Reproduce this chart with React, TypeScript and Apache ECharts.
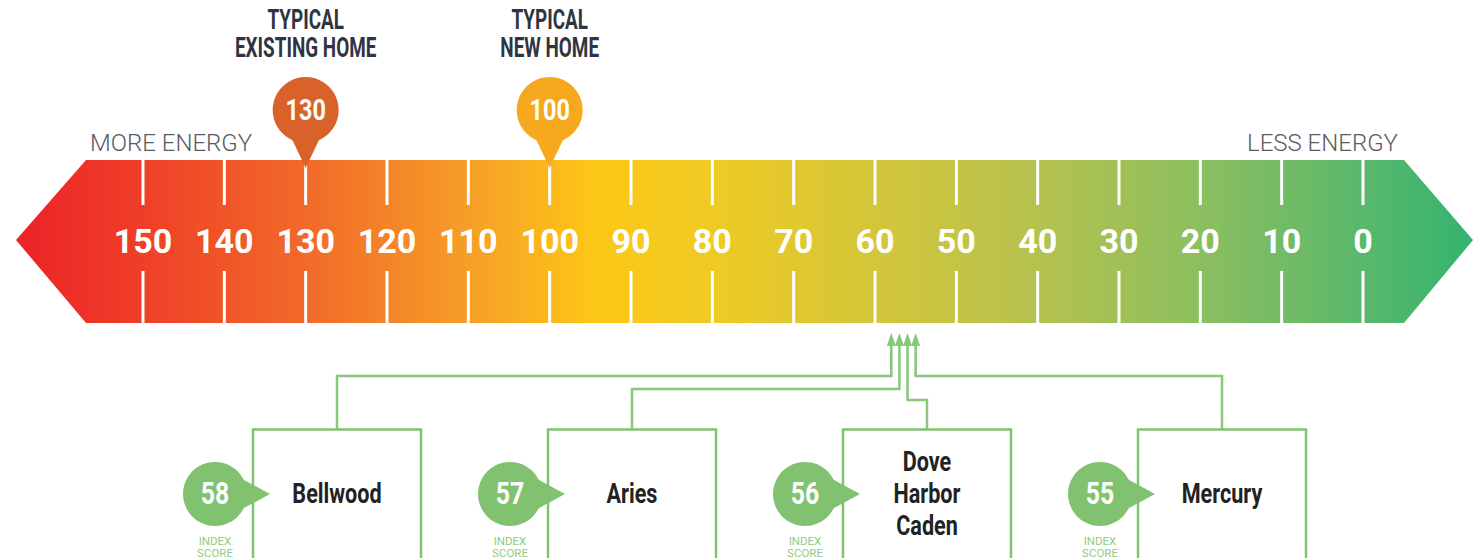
import React, { useEffect, useRef } from 'react';
import * as echarts from 'echarts';

const scaleTicks = [150, 140, 130, 120, 110, 100, 90, 80, 70, 60, 50, 40, 30, 20, 10, 0];
const benchmarkScores = [130, 100];
const benchmarkTitles = ['TYPICAL\nEXISTING HOME', 'TYPICAL\nNEW HOME'];
const homeNames = ['Bellwood', 'Aries', 'Dove\nHarbor\nCaden', 'Mercury'];
const homeScores = [58, 57, 56, 55];
const endLabels = ['MORE ENERGY', 'LESS ENERGY'];
const scoreCaption = ['INDEX', 'SCORE'];

const W = 1481;
const H = 558;
const FONT = 'Roboto';
const PIN_COLORS = ['#D8622A', '#F6A81E'];
const GREEN = '#80C270';
const LINE_GREEN = '#86C77A';
const HOME_LEVELS = [376, 389, 400, 376];

export default function App() {
  const ref = useRef<HTMLDivElement>(null);
  useEffect(() => {
    if (!ref.current) return;
    const chart = echarts.init(ref.current, undefined, { renderer: 'svg' });
    const barGrad = new echarts.graphic.LinearGradient(0, 0, 1, 0, [
      { offset: 0, color: '#EC2227' },
      { offset: 0.087, color: '#EF3F28' },
      { offset: 0.2, color: '#F26A29' },
      { offset: 0.31, color: '#F69E28' },
      { offset: 0.4, color: '#FDC816' },
      { offset: 0.48, color: '#EECA24' },
      { offset: 0.59, color: '#D4C63A' },
      { offset: 0.7, color: '#B5C24E' },
      { offset: 0.81, color: '#8DBF5F' },
      { offset: 0.925, color: '#5AB86B' },
      { offset: 1, color: '#33B36F' },
    ]);
    chart.setOption({
      animation: false,
      grid: { left: 143, right: W - 1363, top: 0, bottom: 0 },
      xAxis: { type: 'value', min: 0, max: 150, inverse: true, show: false },
      yAxis: { type: 'value', min: 0, max: H, inverse: true, show: false },
      graphic: [
        {
          type: 'polygon',
          z: 1,
          shape: { points: [[16, 240], [86, 160], [1404, 160], [1473, 240], [1404, 323], [86, 323]] },
          style: { fill: barGrad },
        },
        {
          type: 'text', z: 1, x: 90, y: 143,
          style: { text: endLabels[0], fill: '#5A5B5E', fontSize: 24, fontFamily: FONT, fontWeight: 300, align: 'left', verticalAlign: 'middle' },
        },
        {
          type: 'text', z: 1, x: 1398, y: 143,
          style: { text: endLabels[1], fill: '#5A5B5E', fontSize: 24, fontFamily: FONT, fontWeight: 300, align: 'right', verticalAlign: 'middle' },
        },
      ],
      series: [
        {
          type: 'custom',
          z: 5,
          data: scaleTicks.map((v) => [v, 0]),
          renderItem: (params: any, api: any) => {
            const v = api.value(0);
            const x = api.coord([v, 0])[0];
            return {
              type: 'group',
              children: [
                { type: 'line', shape: { x1: x, y1: 160, x2: x, y2: 205 }, style: { stroke: '#fff', lineWidth: 3 } },
                { type: 'line', shape: { x1: x, y1: 271, x2: x, y2: 323 }, style: { stroke: '#fff', lineWidth: 3 } },
                {
                  type: 'text', x, y: 241,
                  style: { text: String(v), fill: '#fff', fontSize: 34, fontFamily: FONT, fontWeight: 'bold', align: 'center', verticalAlign: 'middle' },
                },
              ],
            };
          },
        },
        {
          type: 'custom',
          z: 6,
          data: benchmarkScores.map((v, i) => [v, i]),
          renderItem: (params: any, api: any) => {
            const v = api.value(0);
            const i = api.value(1);
            const x = api.coord([v, 0])[0];
            const c = PIN_COLORS[i];
            return {
              type: 'group',
              children: [
                { type: 'polygon', shape: { points: [[x - 19, 128], [x + 19, 128], [x, 168]] }, style: { fill: c } },
                { type: 'circle', shape: { cx: x, cy: 110, r: 33 }, style: { fill: c } },
                {
                  type: 'text', x, y: 110, scaleX: 0.78,
                  style: { text: String(v), fill: '#fff', fontSize: 30, fontFamily: FONT, fontWeight: 'bold', align: 'center', verticalAlign: 'middle' },
                },
                {
                  type: 'text', x, y: 34, scaleX: 0.7,
                  style: { text: benchmarkTitles[i], fill: '#2F3540', fontSize: 27, lineHeight: 28, fontFamily: FONT, fontWeight: 'bold', align: 'center', verticalAlign: 'middle' },
                },
              ],
            };
          },
        },
        {
          type: 'custom',
          z: 7,
          data: homeScores.map((v, i) => [v, i]),
          renderItem: (params: any, api: any) => {
            const v = api.value(0);
            const i = api.value(1);
            const ax = api.coord([v, 0])[0];
            const bx = 337 + i * 295;
            const hy = HOME_LEVELS[i];
            const cx = bx - 122;
            const cy = 494;
            return {
              type: 'group',
              children: [
                { type: 'polygon', shape: { points: [[ax, 333], [ax - 4.5, 346], [ax + 4.5, 346]] }, style: { fill: LINE_GREEN } },
                {
                  type: 'polyline',
                  shape: { points: [[ax, 345], [ax, hy], [bx, hy], [bx, 430]] },
                  style: { stroke: LINE_GREEN, lineWidth: 2.5, fill: 'none' },
                },
                {
                  type: 'rect', shape: { x: bx - 84, y: 429.5, width: 168, height: 140 },
                  style: { fill: '#fff', stroke: GREEN, lineWidth: 2.5 },
                },
                {
                  type: 'text', x: bx, y: cy, scaleX: 0.8,
                  style: { text: homeNames[i], fill: '#222222', fontSize: 27, lineHeight: 32, fontFamily: FONT, fontWeight: 'bold', align: 'center', verticalAlign: 'middle' },
                },
                { type: 'polygon', shape: { points: [[cx + 18, 474], [cx + 18, 514], [cx + 55, 494]] }, style: { fill: GREEN } },
                { type: 'circle', shape: { cx, cy, r: 32 }, style: { fill: GREEN } },
                {
                  type: 'text', x: cx, y: cy, scaleX: 0.8,
                  style: { text: String(v), fill: '#fff', fontSize: 31, fontFamily: FONT, fontWeight: 'bold', align: 'center', verticalAlign: 'middle' },
                },
                {
                  type: 'text', x: cx, y: 541,
                  style: { text: scoreCaption[0], fill: '#8FCB80', fontSize: 11.5, fontFamily: FONT, align: 'center', verticalAlign: 'middle' },
                },
                {
                  type: 'text', x: cx, y: 552.5,
                  style: { text: scoreCaption[1], fill: '#8FCB80', fontSize: 11.5, fontFamily: FONT, align: 'center', verticalAlign: 'middle' },
                },
              ],
            };
          },
        },
      ],
    });
    return () => chart.dispose();
  }, []);
  return <div ref={ref} style={{ position: 'absolute', left: 0, top: 0, width: W, height: H }} />;
}
